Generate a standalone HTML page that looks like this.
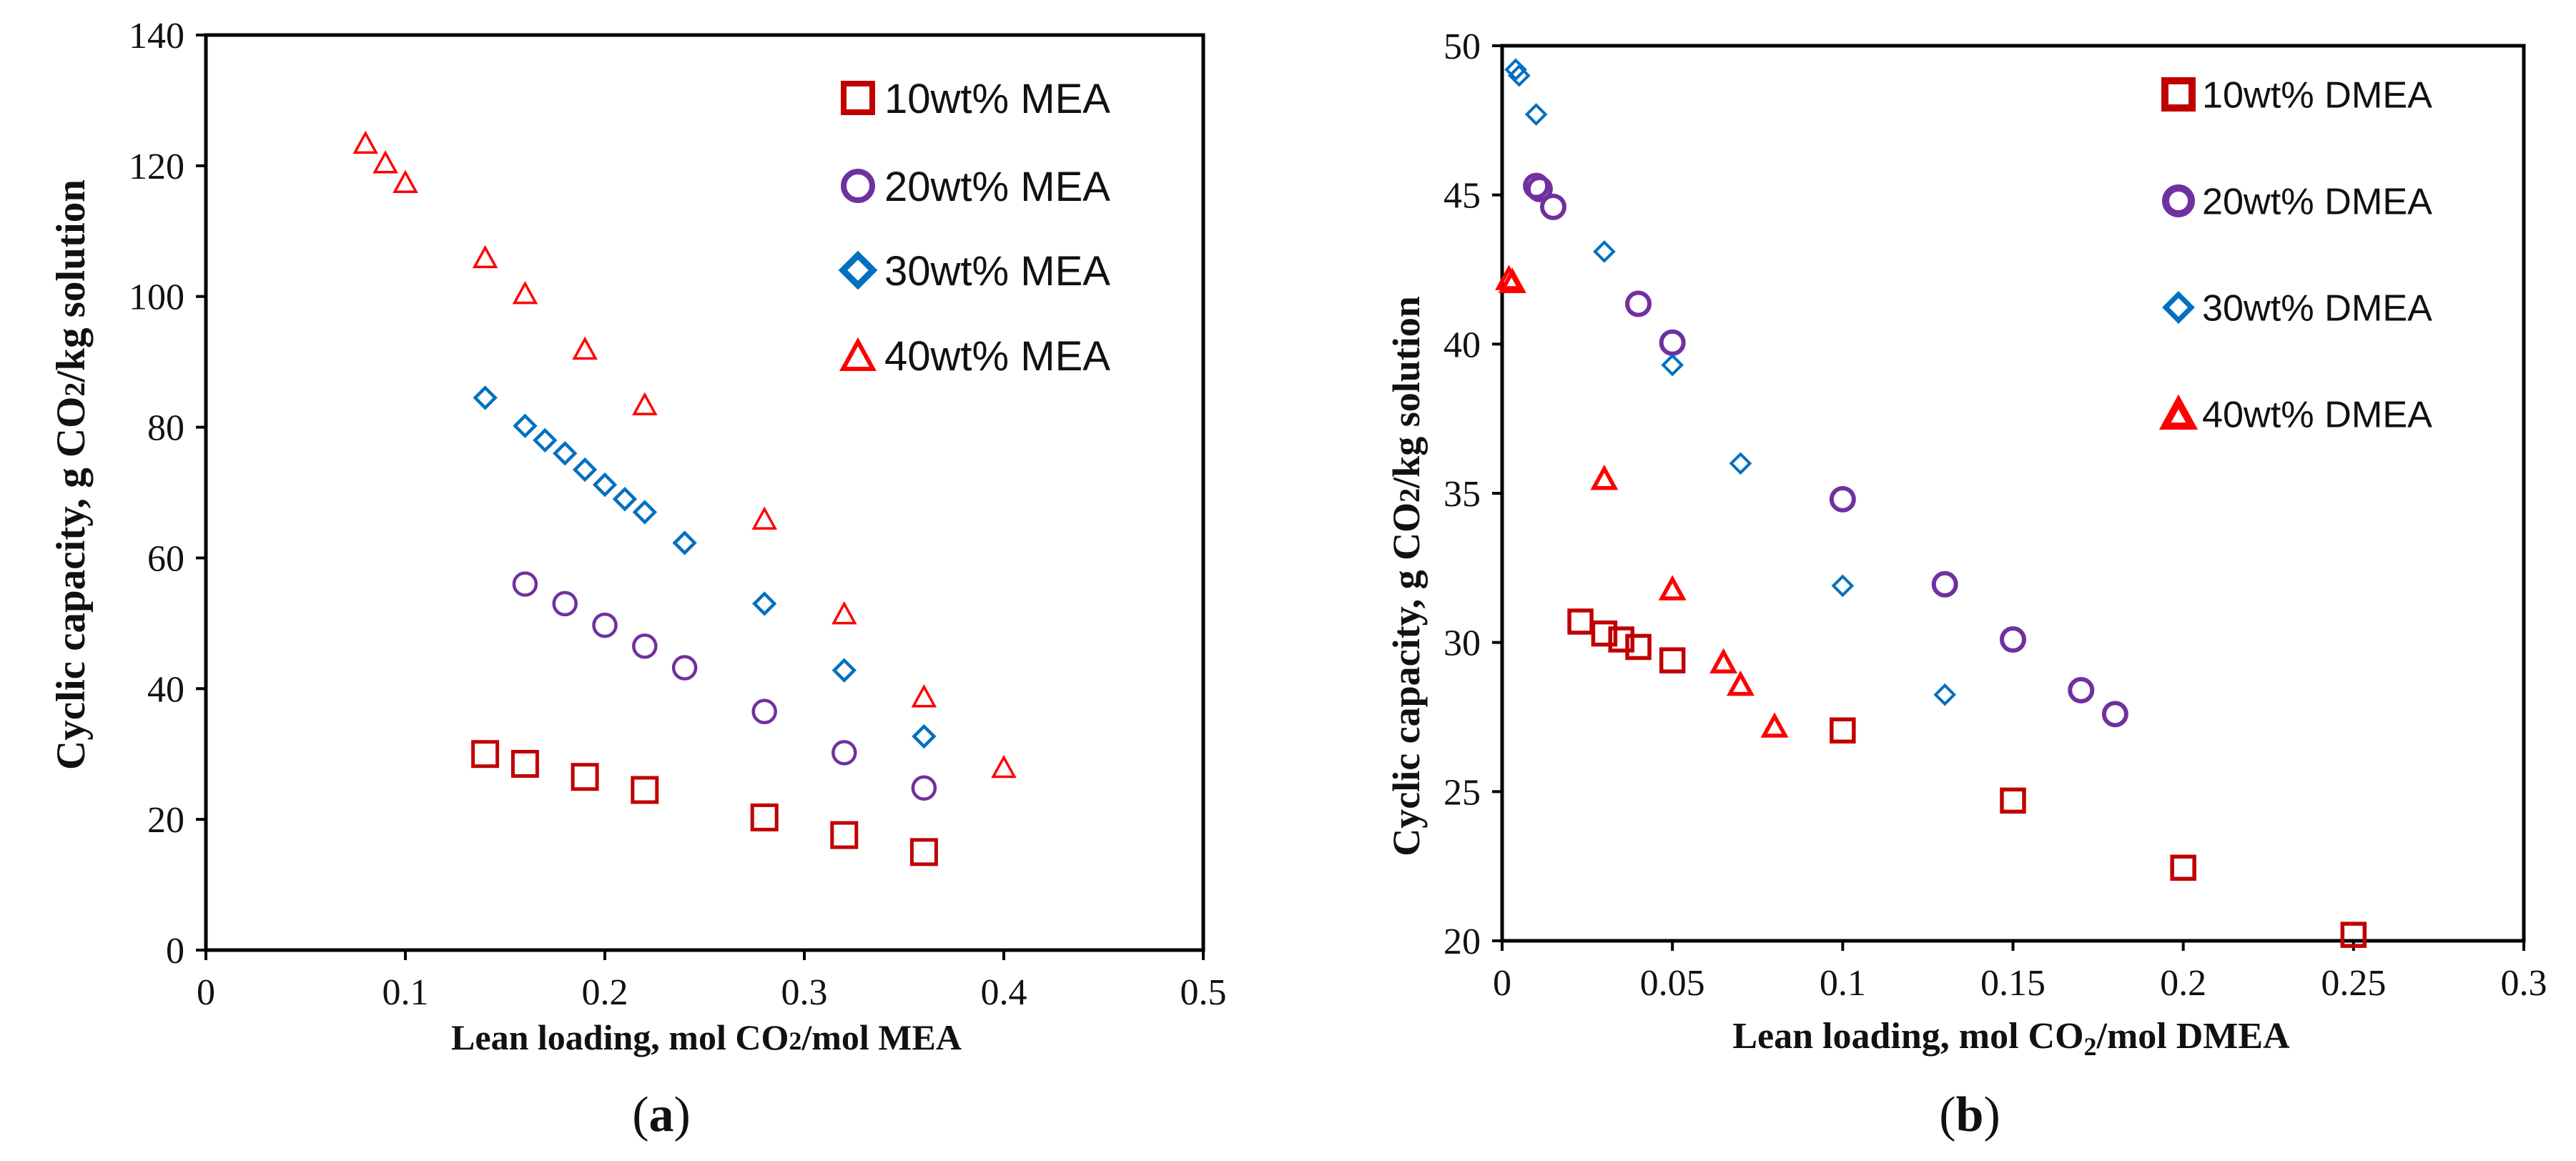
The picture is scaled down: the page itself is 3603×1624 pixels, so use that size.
<!DOCTYPE html>
<html><head><meta charset="utf-8"><style>
html,body{margin:0;padding:0;background:#fff;width:3603px;height:1624px;overflow:hidden}
svg{display:block}
.tick{font-family:"Liberation Serif",serif;font-size:52px;fill:#111}
.ttl{font-family:"Liberation Serif",serif;font-weight:bold;fill:#111}
.leg{font-family:"Liberation Sans",sans-serif;fill:#111}
</style></head><body>
<svg id="chart" width="3603" height="1624" viewBox="0 0 3603 1624">
<g id="pa"></g>
<g id="pb"></g>
<text x="925" y="1582" class="ttl" style="font-weight:normal;font-size:70px" text-anchor="middle">(<tspan font-weight="bold">a</tspan>)</text>
<text x="2755" y="1582" class="ttl" style="font-weight:normal;font-size:70px" text-anchor="middle">(<tspan font-weight="bold">b</tspan>)</text>
<text x="988" y="1468" class="ttl" font-size="50" text-anchor="middle">Lean loading, mol CO<tspan font-size="36">2</tspan>/mol MEA</text>
<text x="2813" y="1466" class="ttl" font-size="52" text-anchor="middle">Lean loading, mol CO<tspan font-size="36" dy="10">2</tspan><tspan dy="-10">/mol DMEA</tspan></text>
<text transform="translate(118,664) rotate(-90)" class="ttl" font-size="57" text-anchor="middle">Cyclic capacity,  g CO<tspan font-size="40">2</tspan>/kg solution</text>
<text transform="translate(1985,806) rotate(-90)" class="ttl" font-size="54" text-anchor="middle">Cyclic capacity, g CO<tspan font-size="40">2</tspan>/kg solution</text>
</svg>
<script>
// Panel (a) data
const aXTicks = [0, 0.1, 0.2, 0.3, 0.4, 0.5];
const aYTicks = [0, 20, 40, 60, 80, 100, 120, 140];
const aLabels = ["10wt% MEA", "20wt% MEA", "30wt% MEA", "40wt% MEA"];
const a10x = [0.14, 0.16, 0.19, 0.22, 0.28, 0.32, 0.36];
const a10y = [30, 28.5, 26.5, 24.5, 20.3, 17.6, 15];
const a20x = [0.16, 0.18, 0.20, 0.22, 0.24, 0.28, 0.32, 0.36];
const a20y = [56, 53, 49.7, 46.5, 43.2, 36.5, 30.2, 24.8];
const a30x = [0.14, 0.16, 0.17, 0.18, 0.19, 0.20, 0.21, 0.22, 0.24, 0.28, 0.32, 0.36];
const a30y = [84.5, 80.2, 78, 76, 73.5, 71.2, 69, 67, 62.3, 53, 42.8, 32.7];
const a40x = [0.08, 0.09, 0.10, 0.14, 0.16, 0.19, 0.22, 0.28, 0.32, 0.36, 0.40];
const a40y = [123.5, 120.5, 117.5, 106, 100.5, 92, 83.5, 66, 51.5, 38.8, 28];
// Panel (b) data
const bXTicks = [0, 0.05, 0.1, 0.15, 0.2, 0.25, 0.3];
const bYTicks = [20, 25, 30, 35, 40, 45, 50];
const bLabels = ["10wt% DMEA", "20wt% DMEA", "30wt% DMEA", "40wt% DMEA"];
const b10x = [0.023, 0.03, 0.035, 0.04, 0.05, 0.1, 0.15, 0.2, 0.25];
const b10y = [30.7, 30.3, 30.1, 29.85, 29.4, 27.05, 24.7, 22.45, 20.2];
const b20x = [0.01, 0.011, 0.015, 0.04, 0.05, 0.1, 0.13, 0.15, 0.17, 0.18];
const b20y = [45.3, 45.2, 44.6, 41.35, 40.05, 34.8, 31.95, 30.1, 28.4, 27.6];
const b30x = [0.004, 0.005, 0.01, 0.03, 0.05, 0.07, 0.1, 0.13];
const b30y = [49.2, 49.0, 47.7, 43.1, 39.3, 36.0, 31.9, 28.25];
const b40x = [0.002, 0.003, 0.03, 0.05, 0.065, 0.07, 0.08];
const b40y = [42.2, 42.1, 35.5, 31.8, 29.35, 28.6, 27.2];

const NS = "http://www.w3.org/2000/svg";
function mk(tag, attrs, parent) {
  const e = document.createElementNS(NS, tag);
  for (const k in attrs) e.setAttribute(k, attrs[k]);
  parent.appendChild(e);
  return e;
}
function marker(kind, cx, cy, s, sw, parent) {
  let e;
  if (kind === "sq") e = mk("rect", {x: cx - s/2, y: cy - s/2, width: s, height: s, fill: "none", stroke: "#C00000", "stroke-width": sw}, parent);
  else if (kind === "ci") e = mk("circle", {cx: cx, cy: cy, r: s/2, fill: "none", stroke: "#7030A0", "stroke-width": sw}, parent);
  else if (kind === "di") e = mk("polygon", {points: `${cx},${cy-s/2} ${cx+s/2},${cy} ${cx},${cy+s/2} ${cx-s/2},${cy}`, fill: "none", stroke: "#0070C0", "stroke-width": sw}, parent);
  else e = mk("polygon", {points: `${cx},${cy-s/2} ${cx+s*0.55},${cy+s/2} ${cx-s*0.55},${cy+s/2}`, fill: "none", stroke: "#FF0000", "stroke-width": sw, "stroke-linejoin": "miter"}, parent);
  return e;
}
function panel(g, cfg) {
  const sx = v => cfg.x0 + (v - cfg.xmin) / (cfg.xmax - cfg.xmin) * (cfg.x1 - cfg.x0);
  const sy = v => cfg.y0 - (v - cfg.ymin) / (cfg.ymax - cfg.ymin) * (cfg.y0 - cfg.y1);
  const frame = mk("rect", {x: cfg.x0, y: cfg.y1, width: cfg.x1 - cfg.x0, height: cfg.y0 - cfg.y1, fill: "none", stroke: "#000", "stroke-width": 5}, g);
  
  
  cfg.xt.forEach(v => {
    const t = mk("line", {x1: sx(v), x2: sx(v), y1: cfg.y0, y2: cfg.y0 + 14, stroke: "#000", "stroke-width": 4}, g);
    
    
    const l = mk("text", {x: sx(v), y: cfg.y0 + 76, "text-anchor": "middle", class: "tick"}, g);
    l.textContent = String(v);
    
    
  });
  cfg.yt.forEach(v => {
    const t = mk("line", {x1: cfg.x0 - 14, x2: cfg.x0, y1: sy(v), y2: sy(v), stroke: "#000", "stroke-width": 4}, g);
    
    
    const l = mk("text", {x: cfg.x0 - 30, y: sy(v) + 18, "text-anchor": "end", class: "tick"}, g);
    l.textContent = String(v);
    
    
  });
  cfg.series.forEach((s, i) => {
    const sg = mk("g", {}, g);
    
    
    s.xs.forEach((xv, j) => {
      const m = marker(s.kind, sx(xv), sy(s.ys[j]), s.size, s.sw, sg);
      
      
    });
    const lg = mk("g", {}, g);
    
    
    marker(s.kind, cfg.legX, cfg.legY[i], s.legSize, s.legSw, lg);
    const lt = mk("text", {x: cfg.legTX, y: cfg.legY[i] + cfg.legFs * 0.36, class: "leg", "font-size": cfg.legFs, textLength: cfg.legW, lengthAdjust: "spacingAndGlyphs"}, lg);
    lt.textContent = s.label;
  });
}
panel(document.getElementById("pa"), {
  x0: 288, x1: 1683, y0: 1329, y1: 49, xmin: 0, xmax: 0.5, ymin: 0, ymax: 140,
  xt: aXTicks, yt: aYTicks, legX: 1200, legTX: 1237, legW: 316, legY: [137, 260, 378, 497], legFs: 58,
  series: [
    {name: "10wt-mea", label: aLabels[0], kind: "sq", xs: a10x, ys: a10y, size: 34, sw: 5, legSize: 40, legSw: 8},
    {name: "20wt-mea", label: aLabels[1], kind: "ci", xs: a20x, ys: a20y, size: 31, sw: 4.5, legSize: 40, legSw: 8},
    {name: "30wt-mea", label: aLabels[2], kind: "di", xs: a30x, ys: a30y, size: 28, sw: 4.5, legSize: 42, legSw: 9},
    {name: "40wt-mea", label: aLabels[3], kind: "tr", xs: a40x, ys: a40y, size: 27, sw: 3.5, legSize: 38, legSw: 6}
  ]
});
panel(document.getElementById("pb"), {
  x0: 2101, x1: 3530, y0: 1316, y1: 64, xmin: 0, xmax: 0.3, ymin: 20, ymax: 50,
  xt: bXTicks, yt: bYTicks, legX: 3047, legTX: 3080, legW: 322, legY: [132, 281, 430, 579], legFs: 52,
  series: [
    {name: "10wt-dmea", label: bLabels[0], kind: "sq", xs: b10x, ys: b10y, size: 31, sw: 5.5, legSize: 38, legSw: 10},
    {name: "20wt-dmea", label: bLabels[1], kind: "ci", xs: b20x, ys: b20y, size: 31, sw: 6, legSize: 36, legSw: 10},
    {name: "30wt-dmea", label: bLabels[2], kind: "di", xs: b30x, ys: b30y, size: 26, sw: 4, legSize: 36, legSw: 7},
    {name: "40wt-dmea", label: bLabels[3], kind: "tr", xs: b40x, ys: b40y, size: 27, sw: 5.5, legSize: 34, legSw: 10}
  ]
});
</script>
</body></html>
